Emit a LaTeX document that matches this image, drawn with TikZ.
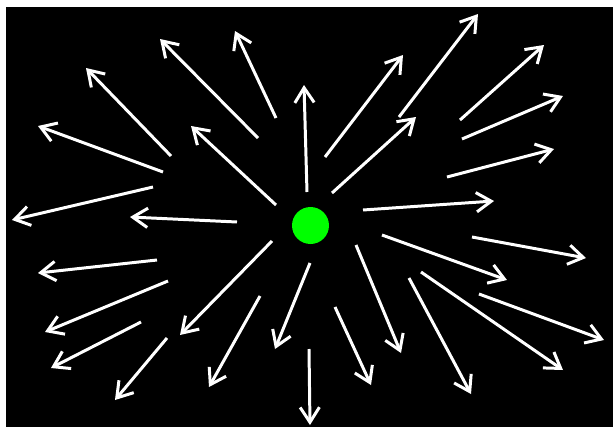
\documentclass[tikz,border=0pt]{standalone}
\usetikzlibrary{arrows.meta}

\begin{document}
\begin{tikzpicture}[x=0.02cm,y=-0.02cm,
    ray/.style={white,line width=1.7pt,-{Straight Barb[length=8.5pt,width=11pt]}}]
    % 613x427 px, y grows downwards

    \useasboundingbox (0,0) rectangle (613,427);
    \fill[white] (0,0) rectangle (613,427);
    \fill[black] (6,7) rectangle (613,427);

    % Стрілки (хвіст / вістря)
    \foreach \a/\b/\c/\d in {
        307/192/304/85,   276/118/235/31,   258/138/160/39,   171/156/86/68,
        163/172/38/126,   276/205/191/126,  153/187/12/220,   237/222/130/217,
        157/260/38/273,   168/281/45/332,   141/322/51/368,   167/338/115/400,
        272/241/180/335,  260/296/209/387,  310/263/275/349,  309/349/310/425,
        335/307/371/385,  356/245/401/353,  409/278/471/394,  421/272/563/370,
        382/235/507/280,  479/294/604/340,  472/237/586/258,  363/210/494/201,
        447/177/554/149,  462/139/563/96,   460/120/544/45,   399/117/478/14,
        332/193/416/117,  325/157/403/55}
        \draw[ray] (\a,\b) -- (\c,\d);

    % Точка
    \fill[green] (310.5,225.5) circle (0.37cm);
\end{tikzpicture}
\end{document}
